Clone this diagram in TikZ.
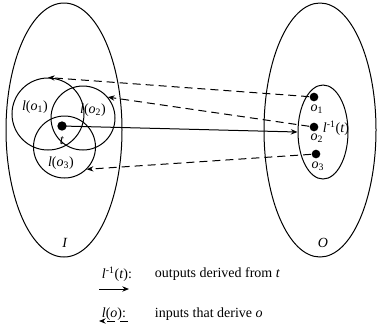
\documentclass[tikz,border=0pt]{standalone}
\usepackage{fontspec}
\setmainfont{Liberation Serif}
\usetikzlibrary{shapes.geometric,arrows.meta}
\tikzset{
  setbox/.style={draw, ellipse, inner sep=0pt},
  subset/.style={draw, circle, inner sep=0pt},
  dot/.style={fill, circle, inner sep=0pt, minimum size=#1},
  derive/.style={-{Stealth[length=5pt,width=4pt]}},
  source/.style={dash pattern=on 6pt off 3.75pt, -{Stealth[length=5pt,width=4pt]}}
}
\newcommand{\vr}[1]{\textit{#1}}
\begin{document}
\begin{tikzpicture}[x=0.75pt, y=-0.75pt, line width=0.75pt, font=\fontsize{10.5}{12}\selectfont]
    \useasboundingbox (0,0) rectangle (378,330);
    % the two sets
    \node[setbox, minimum width=116*0.75pt, minimum height=254*0.75pt] (I) at (64,130) {};
    \node[setbox, minimum width=112*0.75pt, minimum height=254*0.75pt] (O) at (320,130) {};
    \node[setbox, minimum width=50*0.75pt, minimum height=94*0.75pt] (img) at (323,132) {};
    \node at (65,243) {\vr{I}};
    \node at (323,243) {\vr{O}};
    % inputs that derive each output
    \node[subset, minimum size=72*0.75pt] (c1) at (48,114) {};
    \node[subset, minimum size=64*0.75pt] (c2) at (83,118) {};
    \node[subset, minimum size=62*0.75pt] (c3) at (64.5,147) {};
    \node at (35,107) {\vr{l}(\vr{o}\textsubscript{1})};
    \node at (93,110) {\vr{l}(\vr{o}\textsubscript{2})};
    \node at (61,163) {\vr{l}(\vr{o}\textsubscript{3})};
    \node[dot=7pt] (t) at (62,126) {};
    \node[below=0pt] at (t.south) {\vr{t}};
    % outputs
    \node[dot=6.5pt] (o1) at (314,97) {};
    \node[dot=6.5pt] (o2) at (314,127) {};
    \node[dot=6.5pt] (o3) at (316,154) {};
    \node at (317,109) {\vr{o}\textsubscript{1}};
    \node at (317,138) {\vr{o}\textsubscript{2}};
    \node at (318,166) {\vr{o}\textsubscript{3}};
    \node at (336,128) {\vr{l}\textsuperscript{-1}(\vr{t})};
    \draw[derive] (t.center) -- (img.west);
    \draw[source] (o1) -- (c1.north);
    \draw[source] (o2) -- (c2.40);
    \draw[source] (o3) -- (c3.-45);
    % legend
    \node[anchor=west] (k1) at (97,274) {\vr{l}\textsuperscript{-1}(\vr{t}):};
    \node[anchor=west] at (150,274) {outputs derived from \vr{t}};
    \node[anchor=west] (k2) at (97,314) {\vr{l}(\vr{o}):};
    \node[anchor=west] at (150,314) {inputs that derive \vr{o}};
    \coordinate (a1) at (99,289);
    \coordinate (a2) at (129,289);
    \coordinate (b1) at (128,321);
    \coordinate (b2) at (99,321);
    \draw[derive] (a1) -- (a2);
    \draw[source] (b1) -- (b2);
\end{tikzpicture}
\end{document}
